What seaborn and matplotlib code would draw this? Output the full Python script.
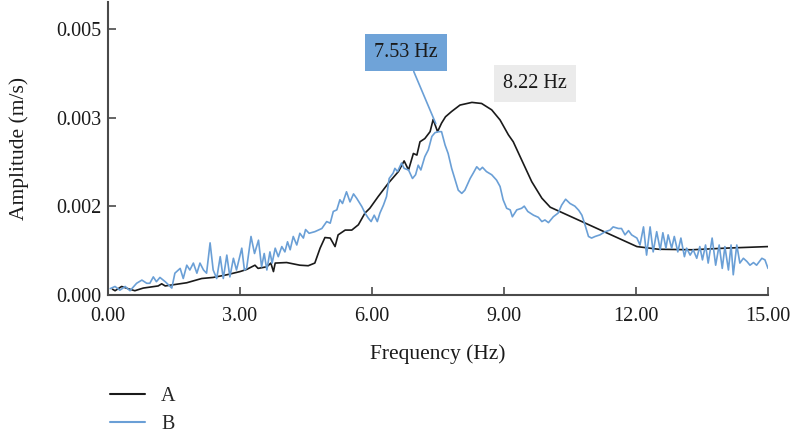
import numpy as np
import pandas as pd
import matplotlib
matplotlib.use("Agg")
import matplotlib.pyplot as plt
import seaborn as sns
from matplotlib.ticker import FormatStrFormatter

# amplitudes, in units of 1e-3 m/s
freq_a = [0.10, 0.16, 0.31, 0.45, 0.61, 0.80, 1.14, 1.22, 1.30, 1.79, 2.13, 2.39, 2.70, 3.00,
          3.15, 3.34, 3.41, 3.61, 3.70, 3.76, 3.80, 4.06, 4.36, 4.55, 4.70, 4.82, 4.93, 5.05,
          5.16, 5.23, 5.39, 5.54, 5.69, 5.84, 5.95, 6.14, 6.37, 6.60, 6.73, 6.83, 6.94, 7.02,
          7.09, 7.20, 7.32, 7.39, 7.49, 7.58, 7.67, 7.81, 8.00, 8.27, 8.49, 8.72, 8.91, 9.10,
          9.21, 9.40, 9.63, 9.86, 10.05, 12.02, 12.51, 13.27, 14.02, 15.00]
amp_a = [0.11, 0.08, 0.16, 0.12, 0.08, 0.13, 0.17, 0.21, 0.17, 0.23, 0.31, 0.33, 0.38, 0.44,
         0.48, 0.56, 0.50, 0.53, 0.60, 0.44, 0.60, 0.61, 0.56, 0.55, 0.60, 0.88, 1.08, 1.07,
         0.91, 1.13, 1.22, 1.22, 1.32, 1.54, 1.63, 1.85, 2.10, 2.32, 2.52, 2.35, 2.66, 2.63,
         2.88, 2.94, 3.07, 3.30, 3.07, 3.23, 3.35, 3.45, 3.57, 3.62, 3.60, 3.48, 3.29, 3.01,
         2.88, 2.54, 2.13, 1.82, 1.65, 0.91, 0.86, 0.85, 0.88, 0.91]

freq_b = [0.05, 0.16, 0.27, 0.39, 0.50, 0.65, 0.77, 0.88, 0.95, 1.03, 1.10, 1.18, 1.30, 1.45,
          1.52, 1.64, 1.71, 1.79, 1.86, 1.94, 2.02, 2.09, 2.17, 2.24, 2.32, 2.39, 2.47, 2.55,
          2.62, 2.70, 2.77, 2.85, 2.92, 3.04, 3.10, 3.15, 3.25, 3.33, 3.42, 3.49, 3.55, 3.61,
          3.68, 3.73, 3.80, 3.87, 3.95, 4.02, 4.08, 4.14, 4.21, 4.29, 4.36, 4.44, 4.49, 4.57,
          4.70, 4.86, 4.97, 5.05, 5.12, 5.20, 5.27, 5.33, 5.42, 5.50, 5.58, 5.65, 5.77, 5.84,
          5.92, 5.98, 6.05, 6.12, 6.18, 6.26, 6.33, 6.39, 6.48, 6.52, 6.58, 6.67, 6.73, 6.83,
          6.92, 6.99, 7.05, 7.11, 7.20, 7.28, 7.36, 7.43, 7.51, 7.58, 7.66, 7.73, 7.81, 7.89,
          7.96, 8.04, 8.11, 8.23, 8.30, 8.38, 8.45, 8.51, 8.60, 8.72, 8.83, 8.91, 8.98, 9.06,
          9.14, 9.19, 9.29, 9.40, 9.46, 9.54, 9.67, 9.78, 9.86, 9.93, 10.01, 10.12, 10.23, 10.31,
          10.40, 10.50, 10.61, 10.70, 10.77, 10.84, 10.92, 10.99, 11.07, 11.18, 11.30, 11.41, 11.48, 11.60,
          11.67, 11.75, 11.83, 11.90, 12.02, 12.09, 12.17, 12.24, 12.32, 12.39, 12.47, 12.55, 12.61, 12.68,
          12.73, 12.81, 12.87, 12.95, 13.02, 13.10, 13.15, 13.23, 13.30, 13.38, 13.45, 13.51, 13.58, 13.64,
          13.73, 13.81, 13.89, 13.96, 14.02, 14.10, 14.16, 14.21, 14.29, 14.36, 14.44, 14.52, 14.59, 14.67,
          14.74, 14.86, 14.93, 15.00]
amp_b = [0.12, 0.16, 0.09, 0.16, 0.08, 0.22, 0.28, 0.22, 0.22, 0.34, 0.25, 0.33, 0.25, 0.13,
         0.41, 0.50, 0.31, 0.56, 0.47, 0.60, 0.41, 0.60, 0.47, 0.41, 0.98, 0.47, 0.31, 0.72,
         0.31, 0.75, 0.34, 0.69, 0.47, 0.88, 0.47, 0.50, 1.10, 0.78, 1.03, 0.53, 0.78, 0.47,
         0.81, 0.60, 0.88, 0.72, 0.91, 0.81, 1.00, 0.85, 1.10, 0.94, 1.16, 1.07, 1.23, 1.16,
         1.19, 1.25, 1.38, 1.35, 1.57, 1.60, 1.79, 1.72, 1.94, 1.75, 1.90, 1.82, 1.66, 1.54,
         1.44, 1.38, 1.50, 1.38, 1.54, 1.69, 1.85, 2.19, 2.29, 2.38, 2.32, 2.48, 2.38, 2.35,
         2.19, 2.26, 2.44, 2.35, 2.60, 2.73, 2.98, 3.05, 3.07, 3.07, 2.82, 2.66, 2.38, 2.16,
         1.97, 1.91, 1.97, 2.19, 2.29, 2.41, 2.35, 2.40, 2.32, 2.26, 2.16, 2.04, 1.79, 1.63,
         1.60, 1.47, 1.60, 1.63, 1.67, 1.57, 1.50, 1.46, 1.38, 1.41, 1.36, 1.47, 1.54, 1.69,
         1.80, 1.72, 1.67, 1.59, 1.50, 1.32, 1.10, 1.07, 1.10, 1.13, 1.19, 1.22, 1.28, 1.25,
         1.25, 1.13, 1.21, 1.13, 1.07, 0.94, 1.28, 0.75, 1.28, 0.81, 1.19, 0.85, 1.17, 0.88,
         1.13, 0.88, 1.10, 0.81, 1.07, 0.72, 0.88, 0.75, 0.85, 0.69, 0.91, 0.66, 0.94, 0.60,
         1.07, 0.56, 0.94, 0.50, 0.91, 0.47, 0.94, 0.38, 0.94, 0.60, 0.69, 0.63, 0.56, 0.61,
         0.56, 0.69, 0.66, 0.50]

series_names = ["A", "B"]
x_ticks = [0, 3, 6, 9, 12, 15]
y_ticks = [0, 0.005 / 3, 0.010 / 3, 0.005]
peak_labels = ["7.53 Hz", "8.22 Hz"]

df = pd.concat([
    pd.DataFrame({"freq": freq_a, "amp": np.array(amp_a) * 1e-3, "series": "A"}),
    pd.DataFrame({"freq": freq_b, "amp": np.array(amp_b) * 1e-3, "series": "B"}),
])

sns.set_style("white")
plt.rcParams["font.family"] = ["Liberation Serif", "DejaVu Serif"]

fig = plt.figure(figsize=(7.93, 4.34), dpi=100)
ax = fig.add_axes([0.1362, 0.3203, 0.8323, 0.6742])

sns.lineplot(data=df, x="freq", y="amp", hue="series", hue_order=series_names,
             palette={"A": "#1a1a1a", "B": "#6a9fd6"}, estimator=None, sort=False,
             linewidth=1.2, ax=ax, legend=False)

ax.set_xlim(0, 15)
ax.set_ylim(0, 0.0055)
ax.set_xticks(x_ticks)
ax.set_yticks(y_ticks)
ax.xaxis.set_major_formatter(FormatStrFormatter("%.2f"))
ax.yaxis.set_major_formatter(FormatStrFormatter("%.3f"))
ax.tick_params(bottom=True, left=True, direction="in", length=6, width=1.2,
               color="#4a4a4a", labelsize=14.5, labelcolor="#1a1a1a")
ax.tick_params(axis="x", pad=9)
ax.tick_params(axis="y", pad=5)
sns.despine(ax=ax)
for s in ["left", "bottom"]:
    ax.spines[s].set_color("#4a4a4a")
    ax.spines[s].set_linewidth(1.5)

ax.set_xlabel("Frequency (Hz)", fontsize=15.5, labelpad=13, color="#1a1a1a")
ax.set_ylabel("Amplitude (m/s)", fontsize=15.5, labelpad=19, color="#1a1a1a")

ax.annotate(peak_labels[0], xy=(7.45, 0.00322), xytext=(6.77, 0.00455),
            ha="center", va="center", fontsize=14.5, color="#1a1a1a",
            bbox=dict(boxstyle="square,pad=0.45", fc="#6fa3d8", ec="none"),
            arrowprops=dict(arrowstyle="-", color="#6a9fd6", lw=1.2, shrinkA=0, shrinkB=0))
ax.text(9.7, 0.00398, peak_labels[1], ha="center", va="center", fontsize=14.5,
        color="#1a1a1a", bbox=dict(boxstyle="square,pad=0.45", fc="#ebebeb", ec="none"))

handles = [plt.Line2D([], [], color="#1a1a1a", lw=1.5),
           plt.Line2D([], [], color="#6a9fd6", lw=1.5)]
fig.legend(handles, series_names, loc="upper left", bbox_to_anchor=(0.118, 0.146),
           frameon=False, fontsize=14.5, handlelength=1.75, handletextpad=0.8,
           labelspacing=0.45, borderpad=0.3)

fig.savefig("out.png", dpi=100)
